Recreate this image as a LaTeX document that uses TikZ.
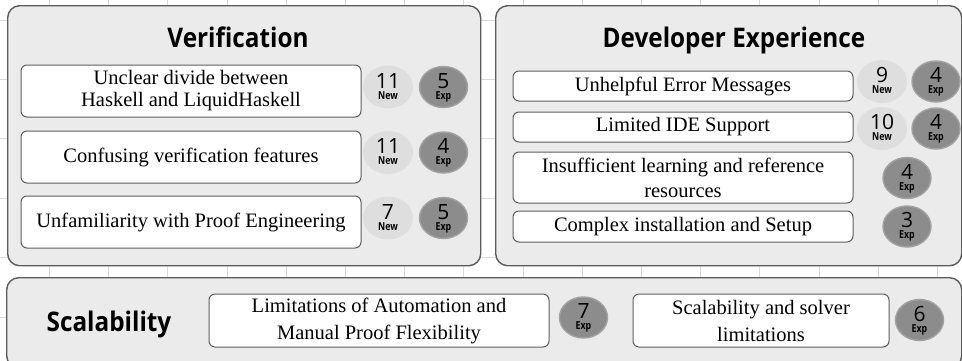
\documentclass[tikz,border=0pt]{standalone}
\usepackage{fontspec}
\setmainfont{Liberation Serif}
\newfontfamily\headfont{Open Sans}
\usetikzlibrary{shapes.geometric}

\definecolor{gridline}{HTML}{DADADA}
\definecolor{groupfill}{HTML}{EBEBEB}
\definecolor{groupline}{HTML}{5C5C5C}
\definecolor{itemline}{HTML}{5E5E5E}
\definecolor{newfill}{HTML}{DEDEDE}
\definecolor{expfill}{HTML}{8C8C8C}
\definecolor{exprim}{HTML}{A2A2A2}

% count badge: name, x, y, number, label, badge style
\newcommand\tally[6]{%
  \node[#6] (#1) at (#2,#3) {};
  \node[badgetext] (#1-t) at ([yshift=14pt]#1.center)
    {#4\\{\bfseries\fontsize{11}{11}\selectfont\scalebox{0.8}[1]{#5}}};
}
% narrow bold panel heading
\newcommand\panelhead[1]{\scalebox{0.9}[1]{#1}}

\begin{document}
\begin{tikzpicture}[x=1pt,y=-1pt,
  group/.style={draw=groupline, fill=groupfill, line width=1.4pt,
    rounded corners=12pt, anchor=north west, inner sep=0pt},
  item/.style={draw=itemline, fill=white, line width=1pt, rounded corners=6pt,
    align=center, inner sep=0pt, minimum width=340pt,
    font=\fontsize{20.5}{22}\selectfont},
  heading/.style={font=\headfont\bfseries\fontsize{27}{30}\selectfont,
    anchor=base, inner sep=0pt},
  newc/.style={ellipse, fill=newfill, minimum width=50pt, minimum height=43pt,
    inner sep=0pt},
  expc/.style={ellipse, fill=expfill, draw=exprim, line width=1.4pt,
    minimum width=48pt, minimum height=41pt, inner sep=0pt},
  badgetext/.style={font=\headfont\fontsize{21}{11}\selectfont, align=center,
    anchor=north, inner sep=0pt},
]
\useasboundingbox (0,0) rectangle (962,360);
\fill[white] (0,0) rectangle (962,360);

% sheet grid behind the panels
\foreach \k in {0,...,15}
  \draw[gridline, line width=0.8pt] ({49.3+59.2*\k},0) -- ({49.3+59.2*\k},360);
\foreach \k in {0,...,5}
  \draw[gridline, line width=0.8pt] (0,{20+59.4*\k}) -- (962,{20+59.4*\k});

% ---------- Verification ----------
\node[group, minimum width=473pt, minimum height=260pt] (verif) at (7,5) {};
\node[heading] (verif-title) at (238,47) {\panelhead{Verification}};

\node[item, minimum height=52pt] (v1) at (191,91)
  {Unclear divide between\\Haskell and LiquidHaskell};
\node[item, minimum height=52pt] (v2) at (191,157) {Confusing verification features};
\node[item, minimum height=52pt] (v3) at (191,222) {Unfamiliarity with Proof Engineering};

\tally{v1new}{388}{87}{11}{New}{newc}
\tally{v1exp}{443.5}{87}{5}{Exp}{expc}
\tally{v2new}{388}{152.5}{11}{New}{newc}
\tally{v2exp}{443.5}{152.5}{4}{Exp}{expc}
\tally{v3new}{388}{218}{7}{New}{newc}
\tally{v3exp}{443.5}{218}{5}{Exp}{expc}

% ---------- Developer Experience ----------
\node[group, minimum width=466pt, minimum height=260pt] (devx) at (495,5) {};
\node[heading] (devx-title) at (734,47) {\panelhead{Developer Experience}};

\node[item, minimum height=30pt] (d1) at (683,86) {Unhelpful Error Messages};
\node[item, minimum height=30pt] (d2) at (683,127) {Limited IDE Support};
\node[item, minimum height=51pt, font=\fontsize{20.5}{25}\selectfont] (d3) at (683,177.5)
  {Insufficient learning and reference\\resources};
\node[item, minimum height=31pt] (d4) at (683,226.5) {Complex installation and Setup};

\tally{d1new}{882}{81.5}{9}{New}{newc}
\tally{d1exp}{936}{81.5}{4}{Exp}{expc}
\tally{d2new}{882}{128.5}{10}{New}{newc}
\tally{d2exp}{936}{128.5}{4}{Exp}{expc}
\tally{d3exp}{907}{178}{4}{Exp}{expc}
\tally{d4exp}{907}{226.5}{3}{Exp}{expc}

% ---------- Scalability ----------
\node[group, minimum width=955pt, minimum height=90pt] (scal) at (6,277) {};
\node[heading] (scal-title) at (109,331) {\panelhead{Scalability}};

\node[item, minimum height=53pt, font=\fontsize{20.5}{27}\selectfont] (s1) at (379,320.5)
  {Limitations of Automation and\\Manual Proof Flexibility};
\node[item, minimum height=53pt, minimum width=256pt, font=\fontsize{20.5}{27}\selectfont]
  (s2) at (761,320.5) {Scalability and solver\\limitations};

\tally{s1exp}{583.5}{317.5}{7}{Exp}{expc}
\tally{s2exp}{919.5}{320}{6}{Exp}{expc}
\end{tikzpicture}
\end{document}
